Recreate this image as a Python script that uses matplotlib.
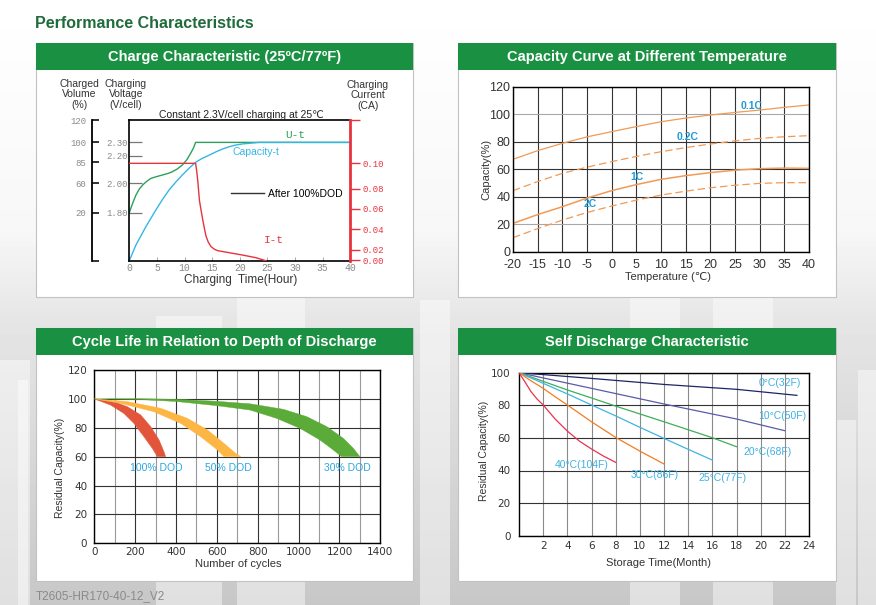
import matplotlib
matplotlib.use('Agg')
import matplotlib.pyplot as plt
import numpy as np
from matplotlib.patches import Rectangle
from matplotlib.lines import Line2D

plt.rcParams['axes.unicode_minus'] = False

W, H = 876, 605

# ---------------- panel 1: charge characteristic ----------------
# curves read on the 0-120 "charged volume" frame of the box
u_t = [0, 0.3, 0.6, 1.2, 1.8, 2.4, 3.1, 3.9, 5, 6, 7, 7.8, 8.7, 9.6, 10.4, 11.1, 11.6, 12, 40]
u_val = [40.9, 45, 48.9, 56, 61, 64.5, 67.5, 70.2, 71.8, 73.1, 74.4, 75.9, 78.3, 81.6, 86, 91.6, 96, 100.9, 100.9]
cap_t = [0, 1.2, 3, 4.8, 6, 7.2, 8.4, 9.6, 10.8, 12, 13.2, 14.5, 15.7, 16.9, 18.1, 19.3, 20.5, 21.7, 23.5, 40]
cap_val = [0, 13.4, 29, 43.2, 52.2, 60.3, 67, 73.1, 78.8, 83.9, 87.3, 90.1, 92.9, 95.3, 97.2, 98.7, 99.6, 100.1, 100.9, 100.9]
# current on the red CA axis
cur_t = [0, 12, 12.2, 12.4, 12.7, 13.0, 13.3, 13.6, 13.9, 14.3, 14.8, 15.4, 16, 18.1, 20.5, 22.9, 24.7]
cur_val = [0.100, 0.100, 0.092, 0.0817, 0.0617, 0.0515, 0.0418, 0.033, 0.025, 0.019, 0.0144, 0.0118, 0.0103, 0.0082, 0.0058, 0.0031, 0.0]

vol_pos = [0, 40.9, 66, 83.9, 101, 120]
vol_lab = ['', '20', '60', '85', '100', '120']
volt_pos = [40.9, 66, 89.6, 101]
volt_lab = ['1.80', '2.00', '2.20', '2.30']
ca_pos = [0.0007, 0.011, 0.0322, 0.0534, 0.074, 0.1, 0.1445]
ca_lab = ['0.00', '0.02', '0.04', '0.06', '0.08', '0.10', '']

# ---------------- panel 2: capacity vs temperature ----------------
temps = [-20, -15, -10, -5, 0, 5, 10, 15, 20, 25, 30, 35, 40]
cap_01c = [67.2, 73.5, 78.8, 83.5, 87.3, 91, 94.5, 97.2, 99.4, 101.3, 103, 105, 106.7]
cap_02c = [44.4, 51, 57, 61.5, 65.5, 69.3, 72.7, 75.7, 78.3, 80.6, 82.4, 83.6, 84.4]
cap_1c = [20.6, 27, 32.7, 39, 44.4, 48.8, 52.6, 55.3, 57.5, 59.3, 60.4, 60.8, 60.6]
cap_2c = [10.2, 16.8, 23, 28.5, 33.2, 37.5, 41.2, 44, 46.5, 48.3, 49.7, 50.2, 50.2]

# ---------------- panel 3: cycle life bands (outer / inner edge) ----------------
dod100_out_x = [0, 96, 162, 227, 276, 317, 341, 349]
dod100_out_y = [100, 98.1, 94.6, 88.9, 80.8, 71.6, 63.5, 60]
dod100_in_x = [0, 80, 145, 194, 243, 284, 309]
dod100_in_y = [100, 95.7, 89.9, 83, 73.8, 65.7, 60]
dod50_out_x = [0, 162, 325, 456, 554, 635, 692, 717]
dod50_out_y = [100, 98.1, 93.5, 86.5, 78.5, 69.2, 62.3, 60]
dod50_in_x = [0, 129, 292, 423, 521, 603, 635]
dod50_in_y = [100, 96.9, 91.1, 83, 73.8, 64.6, 60]
dod30_out_x = [0, 200, 400, 600, 762, 925, 1040, 1138, 1219, 1268, 1300]
dod30_out_y = [100, 100.2, 99.7, 98.3, 96.6, 92.8, 87.7, 80.8, 72.7, 65.8, 60]
dod30_in_x = [0, 200, 400, 600, 762, 893, 1007, 1105, 1170, 1211]
dod30_in_y = [100, 99.7, 98.2, 95.3, 92.3, 86.5, 79.6, 71.5, 64.6, 60]

# ---------------- panel 4: self discharge ----------------
sd_0c_x = [0, 6, 12, 18, 23]
sd_0c_y = [100, 96.5, 92.8, 89.8, 86.1]
sd_10c_x = [0, 6, 12, 18, 22]
sd_10c_y = [100, 90.4, 80.8, 71.6, 64.4]
sd_20c_x = [0, 2, 4, 6, 8, 10, 12, 14, 16, 18]
sd_20c_y = [100, 94.7, 89.4, 84.5, 79.5, 74.7, 69.9, 65, 60.1, 54.6]
sd_25c_x = [0, 2, 4, 6, 8, 10, 12, 14, 16]
sd_25c_y = [100, 93.5, 87, 80.2, 73.5, 66.5, 59.7, 53, 46.4]
sd_30c_x = [0, 1, 2, 3, 4, 6, 8, 10, 12]
sd_30c_y = [100, 95, 90.4, 85.2, 80.2, 69.9, 60.3, 51.9, 44]
sd_40c_x = [0, 0.5, 1, 1.5, 2, 3, 4, 5, 6, 7, 8]
sd_40c_y = [100, 94.3, 88.3, 83.8, 80.2, 71.5, 64.2, 58, 53.2, 48.8, 45]


def box(x0, y0, x1, y1):
    return [x0 / W, 1 - y1 / H, (x1 - x0) / W, (y1 - y0) / H]


def ftext(x, y, s, **kw):
    fig.text(x / W, 1 - y / H, s, **kw)


SANS = ['Liberation Sans', 'DejaVu Sans']
MONO = ['Liberation Mono', 'DejaVu Sans Mono']
GREEN = '#1a9142'

fig = plt.figure(figsize=(W / 100, H / 100), dpi=100)

# background with pale skyline blocks
bg = fig.add_axes([0, 0, 1, 1])
bg.set_xlim(0, W)
bg.set_ylim(H, 0)
bg.axis('off')
rows = np.arange(H)
shade = np.interp(rows, [0, 230, 320, 420, 605], [1.0, 0.97, 0.90, 0.86, 0.78])
bg.imshow(np.repeat(shade[:, None], 2, axis=1), cmap='gray', vmin=0, vmax=1,
          extent=[0, W, H, 0], aspect='auto', zorder=0)
for x0, y0, w in [(156, 316, 66), (237, 298, 68), (630, 298, 50), (713, 298, 60),
                  (0, 360, 30), (18, 380, 10), (836, 420, 20), (858, 370, 18), (420, 300, 30)]:
    bg.add_patch(Rectangle((x0, y0), w, H - y0, color='white', alpha=0.45, lw=0, zorder=1))

bg.text(35, 23, 'Performance Characteristics', color='#1f6b3a', fontsize=11.5,
        fontweight='bold', family=SANS, va='center', ha='left')
bg.text(36, 596, 'T2605-HR170-40-12_V2', color='#8a8a8a', fontsize=8.5,
        family=SANS, va='center', ha='left')

panels = [(36, 43, 413, 297, 'Charge Characteristic (25ºC/77ºF)'),
          (458, 43, 836, 297, 'Capacity Curve at Different Temperature'),
          (36, 328, 413, 581, 'Cycle Life in Relation to Depth of Discharge'),
          (458, 328, 836, 581, 'Self Discharge Characteristic')]
for x0, y0, x1, y1, title in panels:
    bg.add_patch(Rectangle((x0, y0), x1 - x0, y1 - y0, facecolor='white',
                           edgecolor='#c2c2c2', lw=0.8, zorder=2))
    bg.add_patch(Rectangle((x0, y0), x1 - x0, 27, facecolor=GREEN, lw=0, zorder=3))
    bg.text((x0 + x1) / 2, y0 + 14, title, color='white', fontsize=10.5, fontweight='bold',
            family=SANS, ha='center', va='center', zorder=4)

# ---------- panel 1 ----------
ax1 = fig.add_axes(box(129.3, 120, 350.3, 260.7))
ax1.set_xlim(0, 40)
ax1.set_ylim(0, 120)
ax1.plot(u_t, u_val, color='#2ca05a', lw=1)
ax1.plot(cap_t, cap_val, color='#35b6e6', lw=1)
for s in ['top', 'left', 'bottom']:
    ax1.spines[s].set_linewidth(1.2)
ax1.spines['right'].set_visible(False)
ax1.set_xticks(range(0, 41, 5))
ax1.tick_params(axis='x', direction='in', length=3, width=0.6, color='#999',
                labelsize=7, labelcolor='#8a8a8a', pad=2)
ax1.set_yticks(volt_pos, volt_lab)
ax1.tick_params(axis='y', direction='in', length=9.5, width=0.9, color='#777',
                labelsize=6.5, labelcolor='#8a8a8a', pad=1)
for lab in ax1.get_xticklabels() + ax1.get_yticklabels():
    lab.set_family(MONO)
ax1.text(28.3, 105, 'U-t', color='#2ca05a', fontsize=8, family=MONO)
ax1.text(18.7, 90, 'Capacity-t', color='#35b6e6', fontsize=7.5, family=SANS)
ax1.text(24.3, 14.8, 'I-t', color='#e8333f', fontsize=8, family=MONO)
ax1.legend(handles=[Line2D([], [], color='#333333', lw=1)], labels=['After 100%DOD'],
           loc='center left', bbox_to_anchor=(0.46, 0.474), frameon=False,
           handlelength=3.2, handletextpad=0.4, borderpad=0, borderaxespad=0,
           prop={'family': SANS, 'size': 7.5})

ax1r = ax1.twinx()
ax1r.set_ylim(0, 0.1445)
ax1r.plot(cur_t, cur_val, color='#e8333f', lw=1)
for s in ['top', 'left', 'bottom']:
    ax1r.spines[s].set_visible(False)
ax1r.spines['right'].set_color('#e8333f')
ax1r.spines['right'].set_linewidth(2)
ax1r.set_yticks(ca_pos, ca_lab)
ax1r.tick_params(axis='y', direction='out', length=7, width=1, color='#e8333f',
                 labelsize=6.5, labelcolor='#e8333f', pad=2)
for lab in ax1r.get_yticklabels():
    lab.set_family(MONO)

axv = fig.add_axes(box(91.7, 120, 100, 260.7))
axv.set_facecolor('none')
axv.set_ylim(0, 120)
axv.set_xticks([])
for s in ['top', 'right', 'bottom']:
    axv.spines[s].set_visible(False)
axv.spines['left'].set_linewidth(1.3)
axv.set_yticks(vol_pos, vol_lab)
axv.tick_params(axis='y', direction='in', length=5.3, width=1.3, color='#222',
                labelsize=6.5, labelcolor='#8a8a8a', pad=4)
for lab in axv.get_yticklabels():
    lab.set_family(MONO)

ftext(79, 79, 'Charged\nVolume\n(%)', ha='center', va='top', fontsize=7.5,
      family=SANS, color='#333', linespacing=1.05)
ftext(126, 79, 'Charging\nVoltage\n(V/cell)', ha='center', va='top', fontsize=7.5,
      family=SANS, color='#333', linespacing=1.05)
ftext(368, 80, 'Charging\nCurrent\n(CA)', ha='center', va='top', fontsize=7.5,
      family=SANS, color='#333', linespacing=1.05)
ftext(241, 115, 'Constant 2.3V/cell charging at 25℃', ha='center', va='center',
      fontsize=7.5, family=SANS, color='#222')
ftext(241, 280, 'Charging  Time(Hour)', ha='center', va='center', fontsize=8.5,
      family=SANS, color='#333')

# ---------- panel 2 ----------
ax2 = fig.add_axes(box(513, 86.7, 809, 251.7))
ax2.set_xlim(-20, 40)
ax2.set_ylim(0, 120)
orange = '#f19a55'
ax2.plot(temps, cap_01c, color=orange, lw=0.9)
ax2.plot(temps, cap_02c, color=orange, lw=0.9, ls=(0, (6, 3)))
ax2.plot(temps, cap_1c, color=orange, lw=1.1)
ax2.plot(temps, cap_2c, color=orange, lw=0.9, ls=(0, (6, 3)))
ax2.set_xticks(range(-20, 41, 5))
ax2.set_yticks(range(0, 121, 20))
ax2.grid(color='#333', lw=0.8)
for gl, v in zip(ax2.get_ygridlines(), range(0, 121, 20)):
    if v in (20, 100):
        gl.set_color('#a8a8a8')
ax2.set_axisbelow(True)
ax2.tick_params(length=0, labelsize=9, labelcolor='#333', pad=5)
ax2.tick_params(axis='y', pad=2)
for lab in ax2.get_xticklabels() + ax2.get_yticklabels():
    lab.set_family(SANS)
for s in ax2.spines.values():
    s.set_linewidth(1)
blue_lab = '#1e9ad6'
for x, y, s in [(28.4, 106, '0.1C'), (15.4, 83.6, '0.2C'), (5.1, 54.5, '1C'), (-4.3, 35, '2C')]:
    ax2.text(x, y, s, color=blue_lab, fontsize=7.5, fontweight='bold', family=SANS,
             ha='center', va='center')
ftext(668, 277, 'Temperature (℃)', ha='center', va='center', fontsize=8, family=SANS, color='#333')
ftext(486, 169, 'Capacity(%)', ha='center', va='center', rotation=90, fontsize=8,
      family=SANS, color='#333')

# ---------- panel 3 ----------
ax3 = fig.add_axes(box(94.3, 370, 380.3, 543.3))
ax3.set_xlim(0, 1400)
ax3.set_ylim(0, 120)
for ox, oy, ix, iy, col in [(dod100_out_x, dod100_out_y, dod100_in_x, dod100_in_y, '#e2553b'),
                            (dod50_out_x, dod50_out_y, dod50_in_x, dod50_in_y, '#fdb643'),
                            (dod30_out_x, dod30_out_y, dod30_in_x, dod30_in_y, '#5aab37')]:
    ax3.fill(list(ox) + list(ix)[::-1], list(oy) + list(iy)[::-1], color=col, lw=0.3, zorder=3)
ax3.set_xticks(range(0, 1401, 200))
ax3.set_xticks(range(100, 1400, 200), minor=True)
ax3.set_yticks(range(0, 121, 20))
ax3.grid(which='major', color='#333', lw=0.8)
ax3.grid(which='minor', axis='x', color='#9a9a9a', lw=0.8)
ax3.set_axisbelow(True)
ax3.tick_params(which='both', length=0, labelsize=7.5, labelcolor='#333')
ax3.tick_params(axis='x', pad=3)
ax3.tick_params(axis='y', pad=5)
for s in ax3.spines.values():
    s.set_linewidth(1)
for x, s in [(305, '100% DOD'), (656, '50% DOD'), (1237, '30% DOD')]:
    ax3.text(x, 52.4, s, color='#2aa7df', fontsize=7.5, family=SANS, ha='center',
             va='center', zorder=4)
ftext(238, 564, 'Number of cycles', ha='center', va='center', fontsize=8, family=SANS, color='#333')
ftext(60, 468, 'Residual Capacity(%)', ha='center', va='center', rotation=90, fontsize=7.5,
      family=SANS, color='#333')

# ---------- panel 4 ----------
ax4 = fig.add_axes(box(519, 372.7, 809, 535.7))
ax4.set_xlim(0, 24)
ax4.set_ylim(0, 100)
for xs, ys, col in [(sd_0c_x, sd_0c_y, '#1c2566'), (sd_10c_x, sd_10c_y, '#5b5ba8'),
                    (sd_20c_x, sd_20c_y, '#3fae5a'), (sd_25c_x, sd_25c_y, '#3fb4e3'),
                    (sd_30c_x, sd_30c_y, '#f47c20'), (sd_40c_x, sd_40c_y, '#e8334f')]:
    ax4.plot(xs, ys, color=col, lw=0.9, zorder=3)
ax4.set_xticks(range(2, 25, 2))
ax4.set_yticks(range(0, 101, 20))
ax4.grid(axis='x', color='#8a8a8a', lw=0.8)
ax4.grid(axis='y', color='#333', lw=0.8)
ax4.set_axisbelow(True)
ax4.tick_params(length=0, labelsize=7.5, labelcolor='#333')
ax4.tick_params(axis='x', pad=4)
ax4.tick_params(axis='y', pad=6)
for s in ax4.spines.values():
    s.set_linewidth(1)
for x, y, s in [(21.6, 93.5, '0°C(32F)'), (21.8, 73.4, '10°C(50F)'), (20.6, 51.5, '20°C(68F)'),
                (16.8, 35.2, '25°C(77F)'), (11.2, 37.2, '30°C(86F)'), (5.2, 43.4, '40°C(104F)')]:
    ax4.text(x, y, s, color='#3fb0e0', fontsize=7.5, family=SANS, ha='center', va='center')
ftext(658, 563, 'Storage Time(Month)', ha='center', va='center', fontsize=8, family=SANS, color='#333')
ftext(484, 451, 'Residual Capacity(%)', ha='center', va='center', rotation=90, fontsize=7.5,
      family=SANS, color='#333')

fig.savefig('out.png', dpi=100)
